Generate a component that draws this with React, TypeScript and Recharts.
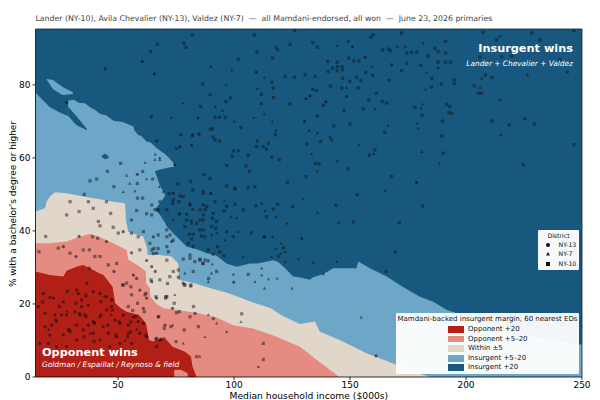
import React from "react";
import { ComposedChart, Area, Scatter, XAxis, YAxis, ReferenceLine } from "recharts";

const X_MIN = 14.4, X_MAX = 250, Y_MAX = 95.3;
const xTicks = [50, 100, 150, 200, 250];
const yTicks = [0, 20, 40, 60, 80];
const DARK = "#18587F", LIGHT = "#6EA6C7", BEIGE = "#E0D6C9", SALMON = "#E58B82", RED = "#B11F17";

type P = [number, number];
const darkTop: P[] = [[14.4, 95.3], [250, 95.3]];
const lightTop: P[] = [[14.4,77.9],[17.1,76.1],[20.6,73.9],[24.9,72.4],[28.4,71.5],[28.5,75.7],[31,75.9],[33,75.1],[35.7,75],[38.6,73.6],[40,73.2],[42.2,72.1],[45,71.6],[48,70.2],[52,69.8],[56.6,68.6],[57,67.6],[58.7,66.3],[60,66],[62.3,64.5],[64,64.2],[65.9,63.1],[66,45.8],[68,44.4],[70,42.5],[71,41.2],[74,39.2],[76.7,37.5],[79.6,35.7],[84,35],[88.2,33.9],[92,33.4],[96.8,31.1],[101.1,30.2],[106.8,31.1],[110,31.1],[116.9,32],[119,31.5],[122,29.8],[125.5,27.5],[128,27.3],[132.7,26.6],[134.1,27.3],[138.5,28.2],[142.8,29.8],[152.8,29.8],[153.5,31.6],[158.6,29.8],[165.8,27.5],[173,24.6],[180.1,22],[185.9,20.6],[191.6,18.4],[214.6,13.3],[229,11],[250,8.8]];
const lightTongue: [number, number, number][] = [[65.5,56.3,63.2],[68,56.8,62],[70.2,57.1,61.1],[72,57.4,60],[74.1,57.6,58.4]];
const lightWedge: [number, number, number][] = [[65.8,45.8,56.5],[68,47.5,52.6],[70.2,49.5,50]];
const lightIsland: [number, number, number][] = [[19.2,81.5,81.6],[22,78.8,81.3],[26,77.2,79.4],[30.5,77.5,78]];
const darkSliver: [number, number, number][] = [[28.5,71.5,74],[32,69,71.5],[36.5,67.6,68]];
const darkDot: [number, number, number][] = [[43,60.2,60.6],[44.4,59.6,61.2],[46,60,60.4]];
const beigeTop: P[] = [[14.4,45.3],[18.5,46.2],[19.2,48],[20.6,49.4],[22.8,50.6],[27.8,50.3],[35,49.4],[42.2,48.7],[48,48],[53,47.6],[53.4,43],[54.4,39.8],[60.9,38.4],[62.6,35],[62.7,33.4],[68,33.4],[73,33],[76,31.1],[76.1,26.6],[82.9,25.7],[89.9,24.3],[98,22.9],[107.3,20.6],[115.9,18.8],[120.3,17],[126,15.2],[128.4,14.5],[134.9,15.2],[137,12.4],[145.6,10.1],[157.1,6.5],[168.6,3.7],[177.3,1.5],[184.4,0]];
const salmonTop: P[] = [[14.4,36.6],[20.6,36.6],[27.8,37.1],[33.6,38.4],[37.9,39.2],[42.2,38.3],[48,36.6],[53.7,34.8],[54.4,32.2],[59.4,30.2],[62,28.9],[62.1,25.7],[63.7,24.3],[64,22],[66.6,20],[69.5,18.8],[75.2,18.4],[85.3,17.4],[92.5,16.3],[99.7,14.2],[108.3,13.3],[118.4,11],[128.4,8.3],[135.6,4.7],[145.4,0]];
const redTop: P[] = [[14.4,28.9],[20.6,27.9],[26.4,27.5],[27.8,29.1],[32.1,30.2],[35,30.7],[38.6,29.5],[41.9,28.4],[43.7,27.9],[47.6,24.7],[48.8,20.2],[51.2,18.8],[53.7,17.9],[59.1,17],[62,14.7],[63.4,10.1],[65.2,9.7],[69.9,10.9],[73.5,8.3],[78.9,6.9],[81.4,5.6],[82.1,2.8],[83.2,1],[83.9,0]];
const salmonNotch: [number, number, number][] = [[74.2,0,1.9],[77,0,2],[80,0,1]];

const ny10: P[] = [[82.1,93.7],[108.7,93.7],[126.1,94.9],[66.9,91.1],[78.4,91.4],[79.3,90.3],[64,89.1],[109.9,89],[118.2,90.3],[118.8,89.6],[124.1,91.1],[101.8,87],[116.6,87.3],[109.6,83.4],[122,82.3],[126,82.1],[86.5,80.2],[116.3,80.7],[117,79.1],[89.7,77.3],[98.5,76.4],[96.5,75.4],[111.8,77.4],[117,76.5],[111.8,74.9],[85.6,74.1],[124.1,74.8],[91.8,71.1],[93.7,71.1],[96.2,71.1],[89.7,67.9],[90.7,67.9],[103,68.3],[117.8,66.3],[91,65.7],[91.8,64.9],[93.7,64.6],[110,64.6],[114.8,64],[112.6,63.1],[114,62.4],[109.7,63.1],[101.8,62],[99.7,61.9],[106.1,60.7],[116.2,60.2],[119.5,59.5],[99.2,60.4],[75.2,62.6],[96.8,57.9],[105.1,57.8],[106.6,56.3],[87,55.4],[89.6,54.4],[81.3,53.5],[75.7,52.9],[82.2,51.2],[96.8,52.3],[100.4,51.7],[109,52.1],[123,53.3],[86.7,50.3],[89.9,50.3],[72,50.3],[78.1,49.4],[51.1,58.5],[45.4,56.3],[40.8,54.2],[37.9,53.7],[60.6,56.3],[58.3,53],[64.9,54.2],[48.2,52.1],[58.4,49],[60.6,49],[35.4,50],[133.9,91.6],[135.9,90.3],[149.2,91.9],[158.9,93],[160,93.7],[172.2,94.2],[191.2,91.9],[207.4,94.4],[228.3,94.2],[246.5,94.9],[164,89.6],[166.5,89.8],[167.5,89.4],[174.4,88.7],[176.5,88.9],[178.8,89],[186.6,90],[188,89.1],[191.2,88.7],[213.2,92.3],[231.8,92.3],[183.4,87.9],[149.5,87.3],[151.7,86.6],[153.8,86.5],[156.6,87.5],[140.3,86.4],[144.5,86.2],[174.4,85.9],[180.6,85.3],[188,86.2],[191.2,86.2],[193.3,86.2],[206,87.6],[215.3,87.7],[219.6,87.9],[240.5,86.9],[146.6,85],[142.5,84.6],[140.6,83.7],[144.5,83.9],[146.8,84.1],[156.7,83.4],[159.7,82.6],[172.2,83.9],[134.9,82.3],[130.6,82.8],[152.8,82.1],[146.8,81.8],[154.7,81.2],[166.9,81.2],[185.2,81.8],[194.9,81.4],[208.4,82.7],[211.3,82],[243.6,83.5],[149.9,81],[141.6,79.7],[146.4,79.1],[153.5,79.2],[185.2,79.4],[189.5,80.3],[194.9,80.3],[203.5,79.7],[205.3,77.7],[206.7,77.7],[135.6,78.4],[161.4,77.7],[158.1,75.9],[163.9,75.4],[165.8,75],[138.5,74.4],[147.4,73],[155.7,73.4],[178,73.9],[191.6,74.7],[193,74.1],[192.6,72.4],[193.8,72.2],[181.1,71.6],[189.9,70.1],[211.3,70.1],[218.6,69],[229.4,69.3],[143,68.8],[149.9,69.3],[165,67],[189.5,66],[137.3,64.5],[142,64.9],[131.3,63.8],[158.3,60.8],[160.7,62.2],[190.2,61.3],[246.5,63.6],[149.2,57],[135,58.5],[136.6,58.4],[224.7,58.1],[167.9,54.9],[131,54.9],[153.1,49.9],[143.8,47],[181.3,46.8],[151.4,42.5],[171.2,42.3],[165.5,28.9],[79.5,43],[86.7,43],[91,44.8],[104,45.8],[114,43.9],[88.2,46.7],[96.8,46.7],[125.3,46.7],[73.8,48.5],[85.3,40.3],[99.7,38.4],[81,32.5],[85.3,32],[86.7,31.1],[82.4,28.9],[92.5,28.9],[89,27],[78.9,25.2],[81.3,24.9],[58,45.6],[62.3,44.7],[64.5,44.4],[60.9,39.8],[63.7,36.6],[64.6,34.8],[59.4,34.8],[55.8,39.4],[71,32],[73.8,28.9],[72.3,27.5],[76,27.3],[68,26.6],[71,22],[70.5,21.6],[82.5,19.3],[29.3,48],[37.2,48],[45,48],[39.3,46.2],[46.8,44.8],[41.5,42.6],[42.2,41.4],[47.9,41],[27.8,44.4],[33.2,45.3],[18.8,38.5],[39,38.4],[41.2,38],[50.1,39.4],[58.7,38.4],[15.9,34.3],[24.2,35.3],[29.3,33.9],[35,34.8],[37.6,34.8],[42.2,33],[40,33],[45.8,30.7],[49.4,31.1],[37.6,29.8],[52.2,25.2],[53.7,25.7],[55.8,22.5],[61.6,22.5],[54.4,19.3],[56.3,18.2],[75.2,17.6],[81,16.5],[91.1,16],[84.6,13.8],[83.9,5.6],[112.6,9.2],[112.6,4.8],[103.3,17.3],
[100.4,51.5],[106.1,51.9],[76.7,49.6],[76.2,48],[81,47.1],[82.2,45.9],[86.7,47.1],[91.8,48],[100.4,47.3],[109.4,46.9],[118.8,47.3],[116.9,46],[85.3,45.8],[87.5,45.8],[95.8,45.5],[71,45.8],[73.5,47.6],[76.4,44.6],[79.6,44.6],[86.7,44.4],[90.6,43.5],[81.7,42.7],[85.3,43],[92.5,42.6],[78.8,41.2],[83.9,42.1],[90.3,41.2],[92.1,40.7],[86.7,40.3],[96.8,39.8],[80.7,39.1],[82.4,39.1],[86,38.6],[87.5,38.4],[81.7,37.8],[80.3,36.6],[88.9,34.8],[92.9,35.7],[93.9,34.3],[82.4,35.7],[121.2,35.4],[95.6,33.2],[91,33.6],[119.1,33],[81,33.4],[85.3,32.3],[83.1,31.6],[87.5,32],[88.9,31.8],[86.5,31.1],[78.1,32.3],[71.7,34.3],[67.3,35.2],[65.5,35.2],[65.2,33.8],[64.5,47.1],[65.9,45.8],[67.3,45.8],[68,48],[71,40.3],[72.4,38.9],[73.8,37.5],[71,38.4],[67.3,38.9],[71,35.7],[76,29.3],[106.1,28.1],
[33.3,17.4],[36.2,16.5],[42.6,17],[31.8,20.2],[24.7,19.3],[28.2,23.4],[36.2,22.4],[42.6,20.6],[47.6,18.3],[39.7,14.7],[45.5,14.2],[50.5,15.1],[57.7,16.5],[29,12.9],[23.2,15.6],[17.5,20.6],[35.4,11],[39.7,9.7],[49.1,11.5],[54.1,11],[55.5,12.4],[62,11.5],[66.3,10.3],[68.5,10.3],[52,25.2],[55.5,24.7],[62,22.9],[58.4,20.2],[61.3,17.9],[66.3,22],[70.6,22],[74.2,20.2],[76.4,17.9],[78.5,25.2],[81.4,25.2],[71.3,25.6],[64.2,26.6],[67.5,16.5],[69.9,13.3],[72.8,13.8],[78.5,12.9],[75,9.7],[55.5,15.1]];

const ny7: P[] = [[144.6,90.8],[170.4,90.5],[173.9,90.5],[181.6,91.4],[214.6,93.4],[188,84.7],[159.3,85],[183,83.4],[148.5,79.3],[182.6,78.8],[206.7,81.8],[226.5,82.7],[206,79.3],[214.6,75.9],[181.1,74.7],[180.6,73.6],[160.7,73.4],[179,69.5],[179.4,68.1],[166.3,68.8],[135.9,66.8],[132.4,67.5],[141.3,65.8],[215,66.3],[154,63.6],[180.8,61.7],[188.5,58.5],[144.6,59.2],[135.9,56.4],[165,51],[160.3,61.1],[133.4,61.1],[136,45],[145.1,42.3],[129.3,38],[144.2,31.6],[134.1,31.4],[138.5,28.2],[154.8,16.3],[99.7,26.1],[113.1,24.3],[124.9,24.3],[74.5,22.5],[73.5,14.2],[85.2,5.6],[78.1,9.2],[88.9,17],[96.8,12.4],[87.5,11],[110.5,2.8],[92.5,14.7],[103,15.1],[96.5,80],[110,79],[95,73],[92,74],[116.5,70],[118,67.5],[108.5,71],[113,72],[100,70],[82,66],[78,75],[73,71],[90,85],[99,84],[113,82],[66,61],[68,60],[55,53],[57.3,50.9],[67.8,52.1],[69.5,50.8],[52.3,50.7],[61.6,58.7],[65.9,59.5],[68,59.5],[62.3,54.2],[53.7,55.2],[122.7,42.1],[81.7,42.1],[92.5,39.4],[107.3,39.4],[120.3,36.6],[81,47.6],[76.7,44.8],[73.8,43],[20,13],[28,18],[38,12],[44,22],[47,17],[53,10],[58,13],[36,22],[40,15],
[95.8,48.3],[129.8,48.7],[90,50.3],[86.7,51],[111.9,47.6],[113.3,45.5],[118.1,43.9],[98.7,43.9],[101.1,43.5],[96.1,37.5],[107.6,39.8],[101.8,39.8],[90.3,38.9],[129.1,38],[116.6,38.4],[122,34.3],[118.1,35.2],[120.1,33.9],[104,33],[116.2,33],[127.7,32.3],[122,31.6],[90.6,30.9],[78.8,28.4],[90.3,28.4],[99.7,28.1],[100,25.9],[111.9,29.8],[114.8,26.8],[118.6,27],[109,26.1],[111.9,27.9],[88.9,26.1]];

const ny13: P[] = [[82.1,66.3],[84.9,66.5],[77.1,66.3],[76.7,63.1],[81.7,63.4],[66.6,64.6],[64.3,71.3],[84.4,70.9],[74.5,58.1],[73.8,50.3],[58.3,55.5],[65.6,83],[60.4,86.4],[44.4,84.4],[27.8,75.2],[151.1,90.5],[167.9,85.5],[144.5,85],[135.9,71.5],[130.4,70],[139.6,75.4],[132.7,77],[131,76.2],[133.9,78.8],[148.5,76.8],[225.4,70.7],[178.7,53.3],[169.6,34.2],[161.2,5.8],[73.1,37.1],[113.1,38.4],[62.3,31.9],[64.5,30.2],[66,28.9],[64.5,26.1],[66.6,21.6],[73.5,18.8],[66.6,33.9],[65.2,38.4],[55.8,43],[55.8,34],[33.2,38.5],[45,37.1],[52.2,39.8],[31.9,33],[26.4,35.7],[48.2,28.9],[56.6,27.9],[58,27],[62.3,21.6],[59.4,23.8],[60.9,18.8],[67.3,16.5],[70.2,14.2],[83.2,17.4],[17.8,22.9],[20.6,21.8],[22.1,21.6],[18.5,17.4],[15.6,19.3],[22.8,17],[26.4,20.6],[27.8,17],[32.1,23.8],[32.9,22.9],[34.3,21.1],[36.5,25.7],[39.3,23.4],[42.2,22.9],[45.1,22],[47.2,21.1],[37.2,19.7],[34.3,19.3],[31.4,17.9],[25.7,17],[21.4,14.2],[23.5,15.2],[18.5,13.8],[20.6,11.5],[26.4,11.5],[28.6,12.9],[29.3,12.4],[33.6,17],[37.2,14.2],[39.3,15.2],[42.2,16.5],[45.1,18.4],[47.2,19.3],[48.7,15.6],[52.3,17],[56.6,16.5],[58.7,15.2],[60.9,14.7],[54.4,12],[49.4,11],[45.8,12],[42.2,10.1],[39.3,12],[35,12.9],[32.1,10.1],[27.8,8.3],[23.5,8.3],[19.9,9.2],[16.3,9.2],[46.5,8.3],[50.8,9.2],[55.9,9.2],[62.3,11],[66.6,10.6],[68,10.1],[43.6,13.8],[50.8,14.7],[54.4,14.2],[59.4,12],[32.1,14.2],[35.7,17],[66.6,8.3],[112.9,38.4],[78.1,25.7]];

const legendRows = [["Opponent +20", RED], ["Opponent +5–20", SALMON], ["Within ±5", BEIGE], ["Insurgent +5–20", LIGHT], ["Insurgent +20", DARK]];
const districtRows = ["NY-13", "NY-7", "NY-10"];

const toLine = (a: P[]) => a.map(([x, y]) => ({ x, y }));
const toBand = (a: [number, number, number][]) => a.map(([x, lo, hi]) => ({ x, r: [lo, hi] }));

const sq = (p: any) => <rect x={p.cx - 1.6} y={p.cy - 1.6} width={3.2} height={3.2} fill="#111" fillOpacity={0.48} />;
const tri = (p: any) => <polygon points={`${p.cx},${p.cy - 1.7} ${p.cx + 1.6},${p.cy + 1.2} ${p.cx - 1.6},${p.cy + 1.2}`} fill="#111" fillOpacity={0.55} />;
const cir = (p: any) => <circle cx={p.cx} cy={p.cy} r={1.6} fill="#111" fillOpacity={0.6} />;

const font = "'DejaVu Sans', sans-serif";
const abs = (s: React.CSSProperties): React.CSSProperties => ({ position: "absolute", fontFamily: font, whiteSpace: "pre", lineHeight: 1, ...s });

const fill = (key: string, d: any[], c: string) => (
  <Area key={key} data={d} dataKey="y" type="linear" fill={c} fillOpacity={1} stroke="none" dot={false} activeDot={false} isAnimationActive={false} />
);
const band = (key: string, d: any[], c: string) => (
  <Area key={key} data={d} dataKey="r" type="linear" fill={c} fillOpacity={1} stroke="none" dot={false} activeDot={false} isAnimationActive={false} />
);

export default function App() {
  return (
    <div style={{ position: "absolute", left: 0, top: 0, width: 600, height: 400, background: "#fff", overflow: "hidden" }}>
      <ComposedChart width={600} height={400} margin={{ top: 29, right: 18, bottom: 0, left: 0 }}>
        <XAxis dataKey="x" type="number" domain={[X_MIN, X_MAX]} ticks={xTicks} allowDataOverflow height={23} tick={{ fontSize: 9, fill: "#000", fontFamily: font }} tickSize={3} tickMargin={2} stroke="#000" strokeWidth={0.8} />
        <YAxis type="number" domain={[0, Y_MAX]} ticks={yTicks} allowDataOverflow width={35.5} tick={{ fontSize: 9, fill: "#000", fontFamily: font }} tickSize={3} tickMargin={2} stroke="#000" strokeWidth={0.8} />
        {fill("dark", toLine(darkTop), DARK)}
        {fill("light", toLine(lightTop), LIGHT)}
        {band("tongue", toBand(lightTongue), LIGHT)}
        {band("wedge", toBand(lightWedge), LIGHT)}
        {band("island", toBand(lightIsland), LIGHT)}
        {band("sliver", toBand(darkSliver), DARK)}
        {band("dot", toBand(darkDot), DARK)}
        {fill("beige", toLine(beigeTop), BEIGE)}
        {fill("salmon", toLine(salmonTop), SALMON)}
        {fill("red", toLine(redTop), RED)}
        {band("notch", toBand(salmonNotch), SALMON)}
        <Scatter data={toLine(ny10)} dataKey="y" shape={sq} isAnimationActive={false} />
        <Scatter data={toLine(ny7)} dataKey="y" shape={tri} isAnimationActive={false} />
        <Scatter data={toLine(ny13)} dataKey="y" shape={cir} isAnimationActive={false} />
        <ReferenceLine y={Y_MAX} stroke="#123" strokeWidth={0.8} />
        <ReferenceLine x={X_MAX} stroke="#123" strokeWidth={0.8} />
      </ComposedChart>

      <div style={abs({ left: 35.5, top: 15, fontSize: 7.8, color: "#444" })}>{"Lander (NY-10), Avila Chevalier (NY-13), Valdez (NY-7)  —  all Mamdani-endorsed, all won  —  June 23, 2026 primaries"}</div>
      <div style={abs({ left: 229.5, top: 391, fontSize: 9.2, color: "#000" })}>Median household income ($000s)</div>
      <div style={abs({ left: 13, top: 204, fontSize: 9, color: "#000", transform: "translate(-50%,-50%) rotate(-90deg)" })}>% with a bachelor's degree or higher</div>

      <div style={abs({ right: 27, top: 42.5, fontSize: 11.3, fontWeight: 700, color: "#fff" })}>Insurgent wins</div>
      <div style={abs({ right: 27, top: 59.7, fontSize: 7.4, fontStyle: "italic", color: "#fff" })}>Lander + Chevalier + Valdez</div>
      <div style={abs({ left: 42, top: 346.5, fontSize: 11.3, fontWeight: 700, color: "#fff" })}>Opponent wins</div>
      <div style={abs({ left: 42, top: 360.7, fontSize: 7.4, fontStyle: "italic", color: "#fff" })}>Goldman / Espaillat / Reynoso &amp; field</div>

      <div style={{ position: "absolute", left: 538, top: 230, width: 41, height: 40, background: "rgba(255,255,255,0.96)", borderRadius: 1 }}>
        <div style={abs({ left: 0, width: 41, top: 2.5, textAlign: "center", fontSize: 6.2, color: "#111" })}>District</div>
        {districtRows.map((d, i) => (
          <React.Fragment key={d}>
            <svg style={{ position: "absolute", left: 6, top: 11 + i * 9.3 }} width={8} height={8}>
              {i === 0 && <circle cx={4} cy={4} r={2} fill="#111" />}
              {i === 1 && <polygon points="4,2 6,5.6 2,5.6" fill="#111" />}
              {i === 2 && <rect x={2} y={2} width={4} height={4} fill="#111" />}
            </svg>
            <div style={abs({ left: 20.5, top: 12 + i * 9.3, fontSize: 6.2, color: "#111" })}>{d}</div>
          </React.Fragment>
        ))}
      </div>

      <div style={{ position: "absolute", left: 396, top: 312.5, width: 183, height: 61.5, background: "rgba(255,255,255,0.95)", borderRadius: 1 }}>
        <div style={abs({ left: 0, width: 183, top: 3.5, textAlign: "center", fontSize: 7, color: "#111" })}>Mamdani-backed insurgent margin, 60 nearest EDs</div>
        {legendRows.map(([t, c], i) => (
          <React.Fragment key={t}>
            <div style={{ position: "absolute", left: 53, top: 14.5 + i * 9.6, width: 13.5, height: 4.8, background: c, outline: "0.5px solid " + c }} />
            <div style={abs({ left: 72, top: 13.5 + i * 9.6, fontSize: 7, color: "#111" })}>{t}</div>
          </React.Fragment>
        ))}
      </div>
    </div>
  );
}
